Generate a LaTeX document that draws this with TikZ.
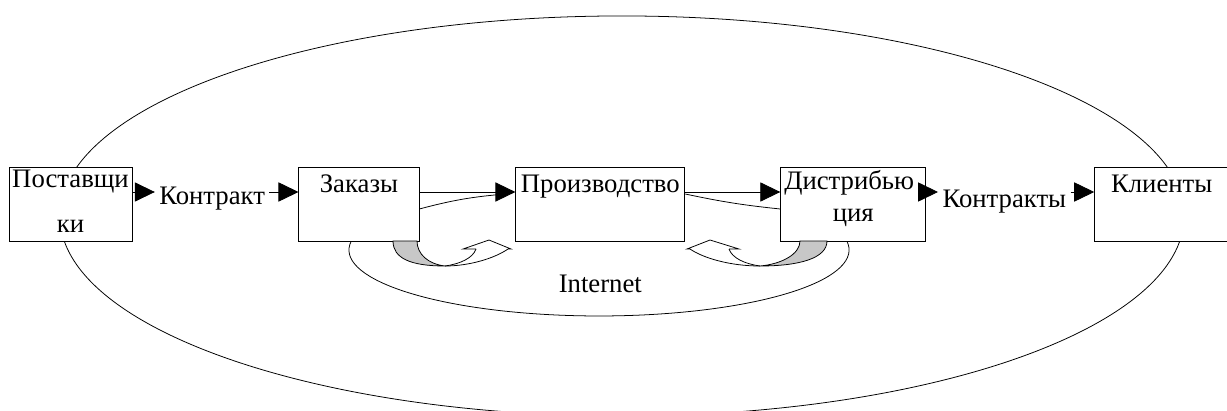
\documentclass[tikz,border=0pt]{standalone}
\usepackage{fontspec}
\setmainfont{Liberation Serif}
\usetikzlibrary{positioning, arrows.meta, calc}
\tikzset{
  bbox/.style    = {draw, fill=white, line width=0.6pt, minimum height=1.85cm, inner sep=0pt},
  boxtext/.style = {anchor=base, inner sep=0pt, font=\fontsize{19}{22}\selectfont},
  lbl/.style     = {inner xsep=3pt, inner ysep=1pt, font=\fontsize{19}{22}\selectfont},
  arrow/.style   = {-{Triangle[length=0.5cm, width=0.48cm]}, line width=0.6pt},
  swoosh/.style  = {line width=0.55pt},
  shade/.style   = {swoosh, fill=black!22}
}

\begin{document}
\begin{tikzpicture}[x=0.025cm, y=0.025cm]
  \useasboundingbox (0,0) rectangle (1227,410);
  % outer loop and the internet loop
  \draw[swoosh] (622,194) ellipse [x radius=14.05cm, y radius=5cm];
  \draw[swoosh] (351.3,169) arc [start angle=172.2, end angle=367.8, x radius=6.25cm, y radius=1.65cm];

  \node[bbox, minimum width=3.075cm] (b1) at (70.5,206) {};
  \node[bbox, minimum width=3cm, right=4.15cm of b1] (b2) {};
  \node[bbox, minimum width=4.225cm, right=2.4cm of b2] (b3) {};
  \node[bbox, minimum width=3.625cm, right=2.375cm of b3] (b4) {};
  \node[bbox, minimum width=3.35cm, right=4.2cm of b4] (b5) {};

  \node[boxtext] (t1)  at ([yshift=-0.525cm]b1.north) {Поставщи};
  \node[boxtext] (t1b) at ([yshift=-1.65cm]b1.north) {ки};
  \node[boxtext] (t2)  at ([yshift=-0.65cm]b2.north) {Заказы};
  \node[boxtext] (t3)  at ([yshift=-0.65cm]b3.north) {Производство};
  \node[boxtext] (t4)  at ([xshift=-1mm, yshift=-0.575cm]b4.north) {Дистрибью};
  \node[boxtext] (t4b) at ([yshift=-1.375cm]b4.north) {ция};
  \node[boxtext] (t5)  at ([yshift=-0.65cm]b5.north) {Клиенты};

  \node[lbl, anchor=base] (k1) at ($(b1.east)!0.48!(b2.west)$) {Контракт};
  \node[lbl, anchor=base] (k2) at ($(b4.east)!0.465!(b5.west)+(0,-3)$) {Контракты};
  \node[lbl, anchor=base] (inet) at ([yshift=-1.275cm]b3.south) {Internet};

  \coordinate (a1) at ([yshift=3mm]b1.east);
  \coordinate (a4) at ([yshift=3mm]b4.east);
  \draw[arrow] (a1) -- (a1 -| k1.west);
  \draw[arrow] (a1 -| k1.east) -- ([yshift=3mm]b2.west);
  \draw[arrow] ([yshift=3mm]b2.east) -- ([yshift=3mm]b3.west);
  \draw[swoosh] ([yshift=-1.25mm]b2.east) to[bend left=5] ([xshift=-2.5mm, yshift=2.5mm]b3.west);
  \draw[arrow] ([yshift=3mm]b3.east) -- ([yshift=3mm]b4.west);
  \draw[swoosh] ([yshift=2.5mm]b3.east) to[bend right=3] ([yshift=-1.25mm]b4.west);
  \draw[arrow] (a4) -- (a4 -| k2.west);
  \draw[arrow] (a4 -| k2.east) -- ([yshift=3mm]b5.west);

  % curved arrows under the boxes
  \draw[shade] (393,169) .. controls (393,152) and (410,144) .. (445,144)
    .. controls (428,146) and (417,156) .. (417,169) -- cycle;
  \draw[swoosh] (445,144) .. controls (470,144) and (495,152) .. (508,161);
  \draw[swoosh] (445,144) .. controls (460,146) and (473,152) .. (476,161);
  \draw[swoosh] (476,161) -- (463,161) -- (489,170) -- (511,161) -- (508,161);
  \draw[shade] (827,169) .. controls (827,152) and (800,144) .. (760,144)
    .. controls (782,146) and (800,156) .. (800,169) -- cycle;
  \draw[swoosh] (760,144) .. controls (730,144) and (703,152) .. (690,161);
  \draw[swoosh] (760,144) .. controls (745,146) and (732,152) .. (729,161);
  \draw[swoosh] (729,161) -- (739,161) -- (710,170) -- (687,161) -- (690,161);
\end{tikzpicture}
\end{document}
